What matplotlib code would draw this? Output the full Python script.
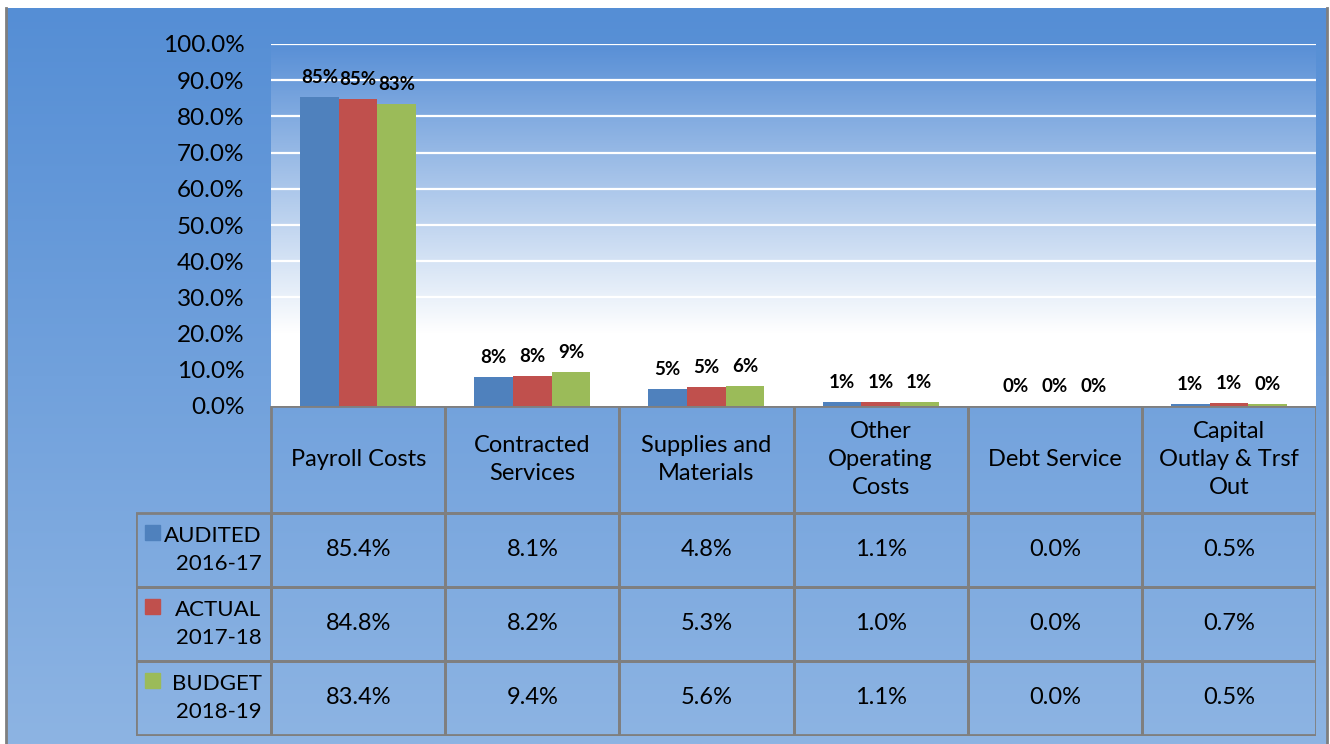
import numpy as np
import matplotlib
matplotlib.use('Agg')
import matplotlib.pyplot as plt
from matplotlib.patches import Rectangle

# data
categories = ['Payroll Costs', 'Contracted\nServices', 'Supplies and\nMaterials',
              'Other\nOperating\nCosts', 'Debt Service', 'Capital\nOutlay & Trsf\nOut']
series = ['AUDITED\n2016-17', 'ACTUAL\n2017-18', 'BUDGET\n2018-19']
audited = [85.4, 8.1, 4.8, 1.1, 0.0, 0.52]
actual = [84.8, 8.2, 5.3, 1.0, 0.0, 0.7]
budget = [83.4, 9.4, 5.6, 1.1, 0.0, 0.46]
colors = ['#4F81BD', '#C0504D', '#9BBB59']
yticks = [0, 10, 20, 30, 40, 50, 60, 70, 80, 90, 100]

plt.rcParams['font.family'] = ['Lato', 'DejaVu Sans']

W, H = 1330, 744
fig = plt.figure(figsize=(W / 100, H / 100), dpi=100, facecolor='white')


def px(x0, y0, x1, y1):
    # pixel box (top-left origin) -> figure fraction
    return [x0 / W, 1 - y1 / H, (x1 - x0) / W, (y1 - y0) / H]


# background gradient
bg = fig.add_axes(px(6, 8, 1327, 744), zorder=-2)
top = np.array([0x55, 0x8E, 0xD5]) / 255
bot = np.array([0x8D, 0xB4, 0xE3]) / 255
t = np.linspace(0, 1, 256)[:, None]
grad = top[None, :] * (1 - t) + bot[None, :] * t
bg.imshow(grad[:, None, :], aspect='auto', extent=[0, 1, 0, 1], origin='upper')
bg.set_xlim(0, 1)
bg.set_ylim(0, 1)
bg.axis('off')
bg.plot([0.0, 0.0], [0, 1], color='#7F7F7F', lw=2, transform=bg.transAxes, clip_on=False)
bg.plot([1.0, 1.0], [0, 1], color='#7F7F7F', lw=2, transform=bg.transAxes, clip_on=False)

# bar chart
ax = fig.add_axes(px(271, 44, 1316, 406))
ax.patch.set_alpha(0)
n = len(categories)
x = np.arange(n)
bw = 0.222

# plot area gradient (white at bottom -> blue at top)
yy = np.linspace(0, 1, 256)[:, None]
w = np.clip((yy - 0.2) / 0.8, 0, 1)
pblue = np.array([0x58, 0x8F, 0xD6]) / 255
pg = np.ones(3)[None, :] * (1 - w) + pblue[None, :] * w
ax.imshow(pg[:, None, :], aspect='auto', extent=[-0.5, n - 0.5, 0, 100],
          origin='lower', zorder=0)
ax.set_xlim(-0.5, n - 0.5)
ax.set_ylim(0, 100)

for v in yticks[1:]:
    ax.axhline(v, color='white', lw=1.6, zorder=1)

for i, (vals, c) in enumerate(zip([audited, actual, budget], colors)):
    pos = x + (i - 1) * bw
    ax.bar(pos, vals, width=bw, color=c, zorder=2)
    for p, v in zip(pos, vals):
        ax.annotate('%d%%' % int(v + 0.5), (p, v), xytext=(0, 8), textcoords='offset points',
                    ha='center', va='bottom', fontsize=13.5, fontweight='bold', color='black')

ax.set_yticks(yticks)
ax.set_yticklabels(['%.1f%%' % v for v in yticks], fontsize=17.5)
ax.tick_params(axis='y', length=0, pad=19)
ax.set_xticks([])
for s in ax.spines.values():
    s.set_visible(False)

# data table
tab = fig.add_axes(px(136, 406, 1316, 736))
tab.axis('off')
leg_w = 135 / 174.0
tab.set_xlim(-0.5 - leg_w, n - 0.5)
tab.set_ylim(330, 0)
hdr = 107
rh = 74
gray = '#7F7F7F'
lw = 2
fs = 17

# header cells
for j, cat in enumerate(categories):
    tab.add_patch(Rectangle((j - 0.5, 0), 1, hdr, fill=False, ec=gray, lw=lw))
    tab.text(j, hdr / 2, cat, ha='center', va='center', fontsize=fs, linespacing=1.4)

rows = [audited, actual, budget]
for i, (vals, name, c) in enumerate(zip(rows, series, colors)):
    y0 = hdr + i * rh
    tab.add_patch(Rectangle((-0.5 - leg_w, y0), leg_w, rh, fill=False, ec=gray, lw=lw))
    tab.add_patch(Rectangle((-0.5 - leg_w + 0.05, y0 + 12), 0.085, 15, color=c))
    tab.text(-0.555, y0 + rh / 2, name, ha='right', va='center', fontsize=16,
             linespacing=1.45, multialignment='right')
    for j, v in enumerate(vals):
        tab.add_patch(Rectangle((j - 0.5, y0), 1, rh, fill=False, ec=gray, lw=lw))
        tab.text(j, y0 + rh / 2, '%.1f%%' % v, ha='center', va='center', fontsize=fs)

fig.savefig('out.png', dpi=100, facecolor='white')
